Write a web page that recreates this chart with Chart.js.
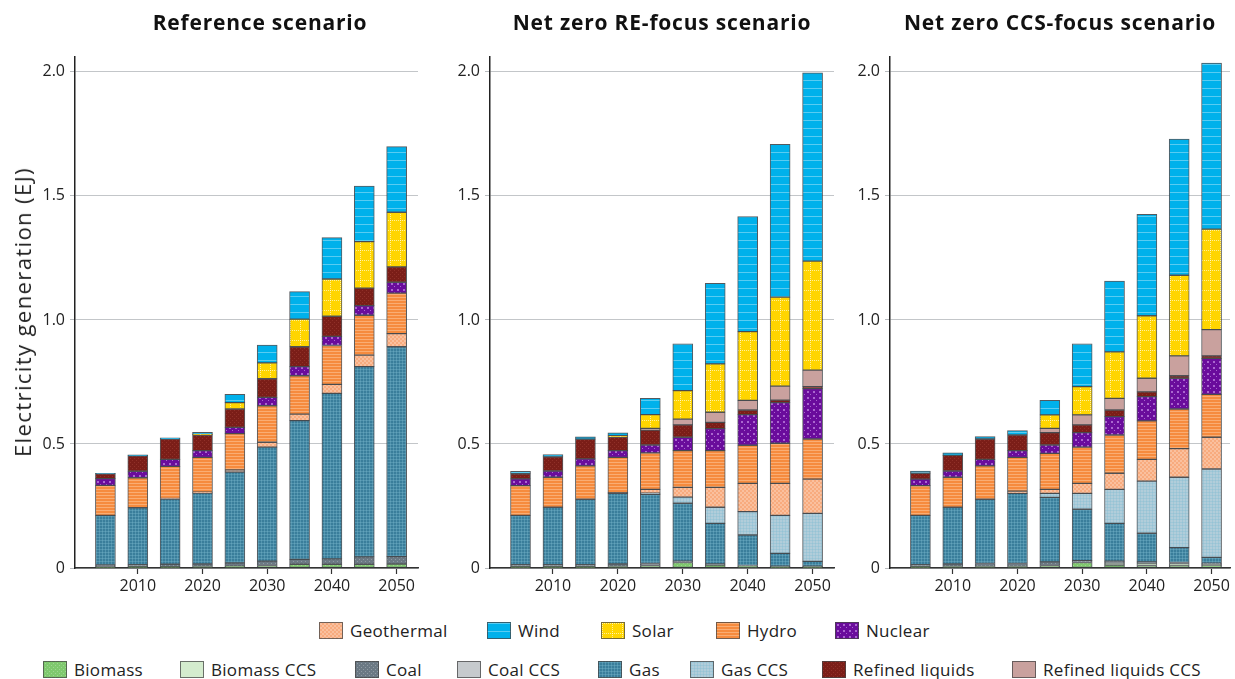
<!DOCTYPE html>
<html><head><meta charset="utf-8">
<script src="https://cdn.jsdelivr.net/npm/chart.js@4.4.1/dist/chart.umd.min.js"></script>
<style>
html,body{margin:0;padding:0;background:#fff;width:1235px;height:679px;overflow:hidden;font-family:"Open Sans",sans-serif;}
.c{position:absolute;top:0;height:600px;}
.t{position:absolute;top:8px;font-weight:700;font-size:21px;letter-spacing:0.8px;color:#111;white-space:nowrap;transform:translateX(-50%);}
.yt{position:absolute;left:22px;top:312px;font-size:22px;letter-spacing:1.4px;color:#222;white-space:nowrap;transform:translate(-50%,-50%) rotate(-90deg);}
.lg{position:absolute;display:flex;align-items:center;font-size:17px;letter-spacing:0.3px;color:#222;white-space:nowrap;height:20px;}
.sw{width:24px;height:17px;border:1px solid rgba(70,70,70,.75);box-sizing:border-box;margin-right:7px;}
</style></head>
<body>
<div class="c" style="left:0;width:430px"><canvas id="p1"></canvas></div>
<div class="c" style="left:440px;width:400px"><canvas id="p2"></canvas></div>
<div class="c" style="left:840px;width:395px"><canvas id="p3"></canvas></div>
<div id="titles"></div>
<div id="legend"></div>
<script>
// ---------- data ----------
const YEARS = [2005, 2010, 2015, 2020, 2025, 2030, 2035, 2040, 2045, 2050];
const X_TICKS = [2010, 2020, 2030, 2040, 2050];
const Y_TICKS = [0, 0.5, 1.0, 1.5, 2.0];
const TITLES = ['Reference scenario', 'Net zero RE-focus scenario', 'Net zero CCS-focus scenario'];
const Y_TITLE = 'Electricity generation (EJ)';
// stacking order, bottom to top
const SERIES = ['Biomass', 'Biomass CCS', 'Coal', 'Coal CCS', 'Gas', 'Gas CCS', 'Geothermal', 'Hydro', 'Nuclear', 'Refined liquids', 'Refined liquids CCS', 'Solar', 'Wind'];
const LEGEND_ROW1 = ['Geothermal', 'Wind', 'Solar', 'Hydro', 'Nuclear'];
const LEGEND_ROW2 = ['Biomass', 'Biomass CCS', 'Coal', 'Coal CCS', 'Gas', 'Gas CCS', 'Refined liquids', 'Refined liquids CCS'];

// Reference scenario (EJ)
const REF_BIOMASS     = [0.004, 0.005, 0.005, 0.006, 0.007, 0.010, 0.015, 0.015, 0.015, 0.016];
const REF_BIOMASS_CCS = [0, 0, 0, 0, 0, 0, 0, 0, 0, 0];
const REF_COAL        = [0.008, 0.008, 0.010, 0.010, 0.013, 0.018, 0.020, 0.022, 0.030, 0.030];
const REF_COAL_CCS    = [0, 0, 0, 0, 0, 0, 0, 0, 0, 0];
const REF_GAS         = [0.200, 0.230, 0.263, 0.286, 0.367, 0.459, 0.559, 0.667, 0.767, 0.846];
const REF_GAS_CCS     = [0, 0, 0, 0, 0, 0, 0, 0, 0, 0];
const REF_GEOTHERMAL  = [0, 0, 0.002, 0.004, 0.008, 0.020, 0.026, 0.036, 0.046, 0.053];
const REF_HYDRO       = [0.121, 0.121, 0.130, 0.140, 0.147, 0.147, 0.155, 0.157, 0.161, 0.163];
const REF_NUCLEAR     = [0.027, 0.026, 0.028, 0.027, 0.025, 0.034, 0.037, 0.037, 0.039, 0.044];
const REF_REFINED     = [0.020, 0.062, 0.082, 0.063, 0.074, 0.075, 0.080, 0.081, 0.070, 0.062];
const REF_REFINED_CCS = [0, 0, 0, 0, 0, 0, 0, 0, 0, 0];
const REF_SOLAR       = [0, 0, 0, 0.003, 0.026, 0.064, 0.111, 0.150, 0.188, 0.220];
const REF_WIND        = [0.002, 0.004, 0.005, 0.008, 0.033, 0.072, 0.111, 0.167, 0.224, 0.265];

// Net zero RE-focus scenario (EJ)
const RE_BIOMASS      = [0.005, 0.005, 0.005, 0.006, 0.010, 0.022, 0.012, 0.007, 0.005, 0.005];
const RE_BIOMASS_CCS  = [0, 0, 0, 0, 0, 0, 0, 0, 0, 0];
const RE_COAL         = [0.008, 0.008, 0.008, 0.010, 0.008, 0.006, 0.004, 0.003, 0.002, 0.002];
const RE_COAL_CCS     = [0, 0, 0, 0, 0, 0, 0, 0, 0, 0];
const RE_GAS          = [0.199, 0.232, 0.264, 0.285, 0.279, 0.233, 0.164, 0.123, 0.052, 0.020];
const RE_GAS_CCS      = [0, 0, 0, 0, 0.005, 0.025, 0.065, 0.094, 0.153, 0.193];
const RE_GEOTHERMAL   = [0, 0, 0, 0.003, 0.015, 0.039, 0.080, 0.114, 0.129, 0.138];
const RE_HYDRO        = [0.120, 0.121, 0.135, 0.142, 0.147, 0.148, 0.148, 0.154, 0.162, 0.162];
const RE_NUCLEAR      = [0.027, 0.025, 0.028, 0.027, 0.032, 0.054, 0.089, 0.123, 0.164, 0.203];
const RE_REFINED      = [0.021, 0.057, 0.079, 0.055, 0.060, 0.050, 0.025, 0.019, 0.010, 0.008];
const RE_REFINED_CCS  = [0, 0, 0, 0, 0.007, 0.023, 0.041, 0.039, 0.056, 0.067];
const RE_SOLAR        = [0, 0, 0, 0.005, 0.055, 0.115, 0.195, 0.277, 0.359, 0.439];
const RE_WIND         = [0.010, 0.009, 0.010, 0.012, 0.066, 0.189, 0.325, 0.464, 0.616, 0.759];

// Net zero CCS-focus scenario (EJ)
const CCS_BIOMASS     = [0.005, 0.006, 0.006, 0.006, 0.010, 0.022, 0.012, 0.010, 0.008, 0.009];
const CCS_BIOMASS_CCS = [0, 0, 0, 0, 0, 0, 0.008, 0.010, 0.010, 0.006];
const CCS_COAL        = [0.008, 0.010, 0.012, 0.012, 0.015, 0.008, 0.008, 0.005, 0.004, 0.004];
const CCS_COAL_CCS    = [0, 0, 0, 0, 0, 0, 0, 0, 0, 0];
const CCS_GAS         = [0.199, 0.229, 0.259, 0.283, 0.260, 0.207, 0.152, 0.115, 0.060, 0.024];
const CCS_GAS_CCS     = [0, 0, 0, 0, 0.016, 0.064, 0.137, 0.210, 0.284, 0.356];
const CCS_GEOTHERMAL  = [0, 0, 0, 0.009, 0.016, 0.040, 0.065, 0.088, 0.115, 0.128];
const CCS_HYDRO       = [0.120, 0.121, 0.135, 0.136, 0.145, 0.146, 0.154, 0.155, 0.160, 0.173];
const CCS_NUCLEAR     = [0.026, 0.025, 0.026, 0.027, 0.034, 0.059, 0.074, 0.098, 0.124, 0.145];
const CCS_REFINED     = [0.024, 0.063, 0.082, 0.063, 0.050, 0.031, 0.027, 0.019, 0.010, 0.010];
const CCS_REFINED_CCS = [0, 0, 0, 0, 0.017, 0.040, 0.047, 0.055, 0.080, 0.106];
const CCS_SOLAR       = [0, 0, 0, 0, 0.054, 0.114, 0.187, 0.252, 0.325, 0.405];
const CCS_WIND        = [0.009, 0.010, 0.010, 0.018, 0.059, 0.173, 0.286, 0.409, 0.549, 0.669];

const PANELS = [
  [REF_BIOMASS, REF_BIOMASS_CCS, REF_COAL, REF_COAL_CCS, REF_GAS, REF_GAS_CCS, REF_GEOTHERMAL, REF_HYDRO, REF_NUCLEAR, REF_REFINED, REF_REFINED_CCS, REF_SOLAR, REF_WIND],
  [RE_BIOMASS, RE_BIOMASS_CCS, RE_COAL, RE_COAL_CCS, RE_GAS, RE_GAS_CCS, RE_GEOTHERMAL, RE_HYDRO, RE_NUCLEAR, RE_REFINED, RE_REFINED_CCS, RE_SOLAR, RE_WIND],
  [CCS_BIOMASS, CCS_BIOMASS_CCS, CCS_COAL, CCS_COAL_CCS, CCS_GAS, CCS_GAS_CCS, CCS_GEOTHERMAL, CCS_HYDRO, CCS_NUCLEAR, CCS_REFINED, CCS_REFINED_CCS, CCS_SOLAR, CCS_WIND]
];

// ---------- styles ----------
function makeFill(base, kind) {
  const sizes = {hlines8: 8, hlines3: 3, dotgrid: 10, check: 4, dots: 6, fine: 3, speck: 4, solid: 4, pdots: 4};
  const n = sizes[kind] || 4;
  const c = document.createElement('canvas'); c.width = n; c.height = n;
  const g = c.getContext('2d');
  g.fillStyle = base; g.fillRect(0, 0, n, n);
  if (kind === 'hlines8') { g.fillStyle = 'rgba(255,255,255,0.35)'; g.fillRect(0, 0, n, 1); }
  if (kind === 'hlines3') { g.fillStyle = 'rgba(255,215,180,0.45)'; g.fillRect(0, 0, n, 1); }
  if (kind === 'dotgrid') { g.fillStyle = 'rgba(255,255,255,0.6)'; for (let i = 0; i < n; i += 2) { g.fillRect(i, 0, 1, 1); g.fillRect(0, i, 1, 1); } }
  if (kind === 'check') { g.fillStyle = 'rgba(255,255,255,0.25)'; g.fillRect(0, 0, 2, 2); g.fillRect(2, 2, 2, 2); }
  if (kind === 'dots') { g.fillStyle = 'rgba(205,150,235,0.65)'; g.fillRect(1, 1, 2, 2); g.fillRect(4, 4, 1, 1); }
  if (kind === 'fine') { g.fillStyle = 'rgba(130,190,210,0.35)'; g.fillRect(0, 0, n, 1); g.fillRect(0, 0, 1, n); }
  if (kind === 'speck') { g.fillStyle = 'rgba(170,70,60,0.45)'; g.fillRect(0, 0, 1, 1); g.fillRect(2, 2, 1, 1); }
  if (kind === 'pdots') { g.fillStyle = 'rgba(255,255,255,0.25)'; g.fillRect(1, 1, 1, 1); g.fillRect(3, 3, 1, 1); }
  return {pattern: g.createPattern(c, 'repeat'), url: c.toDataURL()};
}
const FILL_DEF = {
  'Biomass': ['#7fc96e', 'pdots'],
  'Biomass CCS': ['#d4ecce', 'solid'],
  'Coal': ['#6b7984', 'pdots'],
  'Coal CCS': ['#c6cacd', 'solid'],
  'Gas': ['#3a7e9b', 'fine'],
  'Gas CCS': ['#b1cdda', 'fine'],
  'Geothermal': ['#f8ab7e', 'check'],
  'Hydro': ['#f68b3e', 'hlines3'],
  'Nuclear': ['#6a0c9c', 'dots'],
  'Refined liquids': ['#7b1e18', 'speck'],
  'Refined liquids CCS': ['#c9a19e', 'solid'],
  'Solar': ['#ffd500', 'dotgrid'],
  'Wind': ['#00b1eb', 'hlines8']
};
const FILLS = {};
SERIES.forEach(s => { FILLS[s] = makeFill(FILL_DEF[s][0], FILL_DEF[s][1]); });
const EDGE = 'rgba(55,60,65,0.85)';
const FONT = '"Open Sans", sans-serif';

function makeChart(id, values, opt) {
  return new Chart(document.getElementById(id), {
    type: 'bar',
    data: {
      datasets: SERIES.map((s, k) => ({
        label: s,
        data: YEARS.map((yr, i) => ({x: yr, y: values[k][i] ? values[k][i] : null})),
        backgroundColor: FILLS[s].pattern,
        borderColor: EDGE,
        borderWidth: 1,
        borderSkipped: false,
        barThickness: 20
      }))
    },
    options: {
      responsive: true, maintainAspectRatio: false, animation: false,
      layout: {padding: {top: 57, right: opt.padR, left: 0, bottom: 0}},
      plugins: {legend: {display: false}, tooltip: {enabled: false}, title: {display: false}},
      scales: {
        x: {
          type: 'linear', stacked: true, offset: false, min: 2000.3, max: opt.xMax,
          afterBuildTicks: s => { s.ticks = X_TICKS.map(v => ({value: v})); },
          afterFit: s => { s.height = 32; },
          grid: {offset: false, drawOnChartArea: false, drawTicks: true, tickLength: 6, tickColor: '#333', tickWidth: 1.2},
          border: {display: true, color: '#333', width: 1.5},
          ticks: {padding: 3, color: '#222', font: {family: FONT, size: 16}, maxRotation: 0, autoSkip: false, callback: v => String(v)}
        },
        y: {
          stacked: true, min: 0, max: 2.06,
          afterBuildTicks: s => { s.ticks = Y_TICKS.map(v => ({value: v})); },
          afterFit: s => { s.width = opt.yW; },
          grid: {color: '#c3c6c9', tickColor: '#b8bbbe', tickLength: 5, lineWidth: 1},
          border: {display: true, color: '#222', width: 1.5},
          ticks: {padding: 5, color: '#222', font: {family: FONT, size: 16}, callback: v => (v === 0 ? '0' : v.toFixed(1))}
        }
      }
    }
  });
}

makeChart('p1', PANELS[0], {padR: 12, xMax: 2053.3, yW: 75});
makeChart('p2', PANELS[1], {padR: 6, xMax: 2053.3, yW: 50});
makeChart('p3', PANELS[2], {padR: 5, xMax: 2052.85, yW: 50});

// ---------- titles (text) ----------
const TITLE_CX = [260, 662, 1060];
const titles = document.getElementById('titles');
TITLES.forEach((t, i) => {
  const d = document.createElement('div'); d.className = 't';
  d.style.left = TITLE_CX[i] + 'px'; d.textContent = t; titles.appendChild(d);
});
const yt = document.createElement('div'); yt.className = 'yt'; yt.textContent = Y_TITLE; titles.appendChild(yt);

// ---------- legend (HTML text, swatches use the same fills) ----------
const LEG_POS1 = [319, 487, 601, 716, 835];
const LEG_POS2 = [43, 180, 355, 457, 598, 690, 822, 1012];
const legend = document.getElementById('legend');
function addItem(name, left, top) {
  const d = document.createElement('div');
  d.className = 'lg'; d.style.left = left + 'px'; d.style.top = top + 'px';
  const sw = document.createElement('div'); sw.className = 'sw';
  sw.style.backgroundImage = 'url(' + FILLS[name].url + ')';
  const t = document.createElement('span'); t.textContent = name;
  d.appendChild(sw); d.appendChild(t); legend.appendChild(d);
}
LEGEND_ROW1.forEach((n, i) => addItem(n, LEG_POS1[i], 620));
LEGEND_ROW2.forEach((n, i) => addItem(n, LEG_POS2[i], 659));
</script>
</body></html>
